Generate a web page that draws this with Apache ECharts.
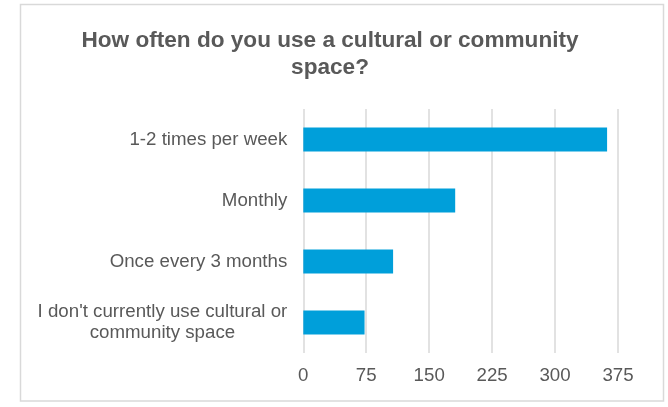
<!DOCTYPE html>
<html>
<head>
<meta charset="utf-8">
<script src="https://cdn.jsdelivr.net/npm/echarts@6/dist/echarts.min.js"></script>
<style>
html,body{margin:0;padding:0;background:#fff;}
#chart{width:668px;height:407px;}
</style>
</head>
<body>
<div id="chart"></div>
<script>
const titleText = "How often do you use a cultural or community\nspace?";
const categories = ["1-2 times per week", "Monthly", "Once every 3 months", "I don't currently use cultural or\ncommunity space"];
const values = [362, 181, 107, 73];
const xTicks = { min: 0, max: 375, interval: 75 };

const FONT = "'Liberation Sans', Arial, sans-serif";
const chart = echarts.init(document.getElementById('chart'), null, { renderer: 'canvas' });
chart.setOption({
  animation: false,
  backgroundColor: '#ffffff',
  graphic: [{
    type: 'rect',
    shape: { x: 20.5, y: 4.5, width: 643, height: 396.5 },
    style: { fill: 'none', stroke: '#d9d9d9', lineWidth: 1.5 },
    silent: true
  }],
  title: {
    text: titleText,
    left: 325,
    top: 22,
    textAlign: 'center',
    textStyle: { fontFamily: FONT, fontSize: 22.6, fontWeight: 'bold', color: '#595959', lineHeight: 27 }
  },
  grid: { left: 303.3, right: 50, top: 109, bottom: 54, containLabel: false },
  xAxis: {
    type: 'value',
    min: xTicks.min, max: xTicks.max, interval: xTicks.interval,
    axisLine: { show: false },
    axisTick: { show: false },
    splitLine: { show: true, lineStyle: { color: '#d9d9d9', width: 1.5 } },
    axisLabel: { color: '#595959', fontFamily: FONT, fontSize: 18.7, margin: 13 }
  },
  yAxis: {
    type: 'category',
    inverse: true,
    data: categories,
    axisLine: { show: false },
    axisTick: { show: false },
    axisLabel: {
      margin: 16,
      formatter: function (v) {
        return v.split('\n').map(function (l) { return '{c|' + l + '}'; }).join('\n');
      },
      rich: {
        c: { align: 'center', color: '#595959', fontFamily: FONT, fontSize: 18.7, lineHeight: 21 }
      }
    }
  },
  series: [{
    type: 'bar',
    data: values,
    barWidth: 24,
    itemStyle: { color: '#009FDA' }
  }]
});
</script>
</body>
</html>
